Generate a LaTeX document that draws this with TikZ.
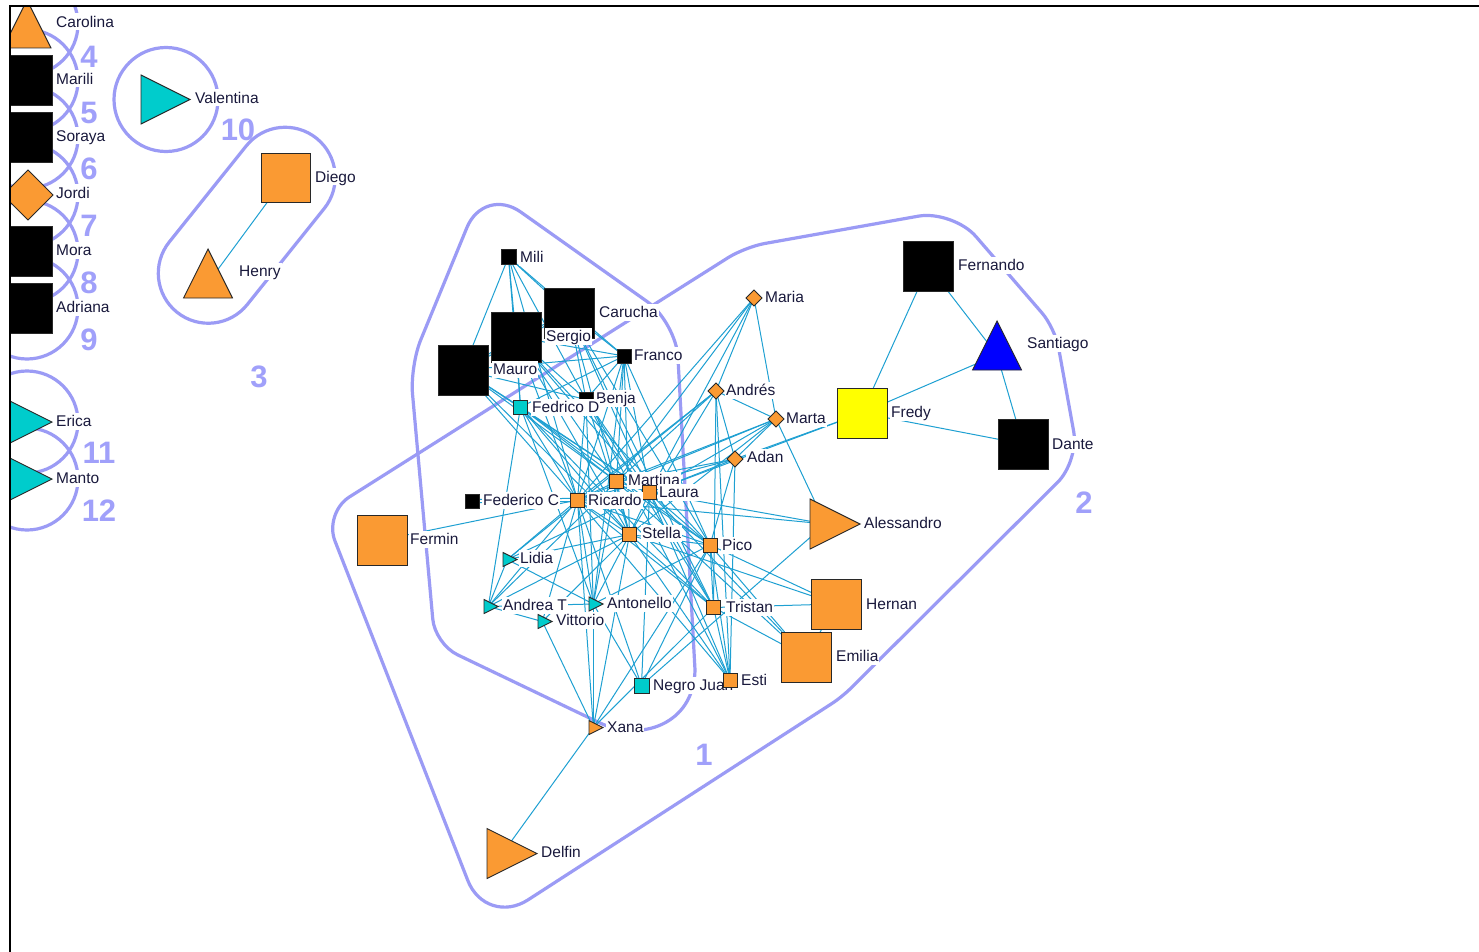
\documentclass[tikz,border=0pt]{standalone}
\usepackage{fontspec}
\setmainfont{Liberation Sans}
\usetikzlibrary{shapes.geometric,shapes.misc,calc}
\pgfdeclarelayer{paper}
\pgfdeclarelayer{hulls}
\pgfdeclarelayer{links}
\pgfsetlayers{paper,hulls,links,main}

\definecolor{nodeorange}{RGB}{250,154,51}
\definecolor{nodeteal}{RGB}{0,204,204}
\definecolor{nodeyellow}{RGB}{255,255,0}
\definecolor{nodeblue}{RGB}{0,0,255}
\definecolor{linkblue}{RGB}{30,160,210}
\definecolor{hullviolet}{RGB}{155,155,245}
\definecolor{numviolet}{RGB}{160,160,250}
\definecolor{labelink}{RGB}{25,25,60}
\definecolor{rimgray}{RGB}{40,40,40}

\begin{document}
\begin{tikzpicture}[x=1pt,y=-1pt,
  base/.style={draw=rimgray, line width=0.9pt, inner sep=0pt, outer sep=0pt},
  sqn/.style={base, rectangle, minimum size=#1},
  dmn/.style={base, diamond, minimum size=#1},
  rtri/.style={base, isosceles triangle, isosceles triangle stretches=true,
    minimum width=#1, minimum height=#1, anchor=apex},
  utri/.style={rtri=#1, shape border rotate=90},
  lbl/.style={anchor=west, fill=white, inner sep=1pt, text height=13pt, text depth=2pt,
    text=labelink, font=\fontsize{15.5}{18}\selectfont},
  num/.style={text=numviolet, font=\fontsize{31}{31}\selectfont\bfseries, inner sep=0pt},
  hull/.style={draw=hullviolet, line width=3.2pt},
  link/.style={draw=linkblue, line width=1pt},
]
\useasboundingbox (0,0) rectangle (1479,952);
\begin{pgfonlayer}{paper}
  \fill[white] (0,0) rectangle (1479,952);
\end{pgfonlayer}

% ---------- actors and their names ----------
\begin{scope}
\clip (10,7) rectangle (1479,952);
% isolates on the left margin
\node[utri=48, fill=nodeorange] (carolina) at (27,0) {};
\node[lbl] (lcarolina) at (55,22) {Carolina};
\node[sqn=50, fill=black] (marili) at (27,80.5) {};
\node[lbl] (lmarili) at (55,79) {Marili};
\node[sqn=50, fill=black] (soraya) at (27,137.5) {};
\node[lbl] (lsoraya) at (55,136) {Soraya};
\node[dmn=50, fill=nodeorange] (jordi) at (28,195) {};
\node[lbl] (ljordi) at (55,193) {Jordi};
\node[sqn=50, fill=black] (mora) at (27,251.5) {};
\node[lbl] (lmora) at (55,250) {Mora};
\node[sqn=50, fill=black] (adriana) at (27,308) {};
\node[lbl] (ladriana) at (55,307) {Adriana};
\node[rtri=49, fill=nodeteal] (erica) at (52,422) {};
\node[lbl] (lerica) at (55,421) {Erica};
\node[rtri=49, fill=nodeteal] (manto) at (52,479) {};
\node[lbl] (lmanto) at (55,478) {Manto};
\node[rtri=49, fill=nodeteal] (valentina) at (190,99.5) {};
\node[lbl] (lvalentina) at (194,98) {Valentina};
\node[sqn=49, fill=nodeorange] (diego) at (285.5,177.5) {};
\node[lbl] (ldiego) at (314,177) {Diego};
\node[utri=49, fill=nodeorange] (henry) at (208,249) {};
\node[lbl] (lhenry) at (238,271) {Henry};

% main component
\node[sqn=15, fill=black] (mili) at (508.5,257) {};
\node[lbl] (lmili) at (519,257) {Mili};
\node[sqn=50, fill=black] (carucha) at (569.5,313) {};
\node[lbl] (lcarucha) at (598,312) {Carucha};
\node[sqn=50, fill=black] (sergio) at (516,337) {};
\node[lbl] (lsergio) at (545,336) {Sergio};
\node[sqn=50, fill=black] (mauro) at (463,370) {};
\node[lbl] (lmauro) at (492,369) {Mauro};
\node[sqn=14, fill=black] (franco) at (624,356) {};
\node[lbl] (lfranco) at (633,355) {Franco};
\node[sqn=14, fill=black] (benja) at (586,399.5) {};
\node[lbl] (lbenja) at (595,398) {Benja};
\node[sqn=14, fill=nodeteal] (fedd) at (520.5,407) {};
\node[lbl] (lfedd) at (531,407) {Fedrico D};
\node[dmn=16, fill=nodeorange] (maria) at (754,298) {};
\node[lbl] (lmaria) at (764,297) {Maria};
\node[dmn=16, fill=nodeorange] (andres) at (716,391) {};
\node[lbl] (landres) at (725,390) {Andrés};
\node[dmn=16, fill=nodeorange] (marta) at (776,419) {};
\node[lbl] (lmarta) at (785,418) {Marta};
\node[dmn=16, fill=nodeorange] (adan) at (735,459) {};
\node[lbl] (ladan) at (746,457) {Adan};
\node[sqn=14, fill=nodeorange] (martina) at (616.5,481.5) {};
\node[lbl] (lmartina) at (627,480) {Martina};
\node[sqn=14, fill=nodeorange] (laura) at (649.5,492.5) {};
\node[lbl] (llaura) at (658,492) {Laura};
\node[sqn=14, fill=black] (fedc) at (472.5,501) {};
\node[lbl] (lfedc) at (482,500) {Federico C};
\node[sqn=14, fill=nodeorange] (ricardo) at (577.5,500) {};
\node[lbl] (lricardo) at (587,500) {Ricardo};
\node[sqn=14, fill=nodeorange] (stella) at (629.5,534.5) {};
\node[lbl] (lstella) at (641,533) {Stella};
\node[sqn=14, fill=nodeorange] (pico) at (710,545) {};
\node[lbl] (lpico) at (721,545) {Pico};
\node[rtri=14, fill=nodeteal] (lidia) at (517,559.5) {};
\node[lbl] (llidia) at (519,558) {Lidia};
\node[rtri=14, fill=nodeteal] (andrea) at (498,606.5) {};
\node[lbl] (landrea) at (502,605) {Andrea T};
\node[rtri=14, fill=nodeteal] (antonello) at (603,604) {};
\node[lbl] (lantonello) at (606,603) {Antonello};
\node[rtri=14, fill=nodeteal] (vittorio) at (552,621.5) {};
\node[lbl] (lvittorio) at (555,620) {Vittorio};
\node[sqn=14, fill=nodeorange] (tristan) at (713.5,607.5) {};
\node[lbl] (ltristan) at (725,607) {Tristan};
\node[sqn=15, fill=nodeteal] (negro) at (641.5,685.5) {};
\node[lbl] (lnegro) at (652,685) {Negro Juan};
\node[sqn=14, fill=nodeorange] (esti) at (730,680) {};
\node[lbl] (lesti) at (740,680) {Esti};
\node[rtri=14, fill=nodeorange] (xana) at (603,727.5) {};
\node[lbl] (lxana) at (606,727) {Xana};
\node[rtri=50, fill=nodeorange] (delfin) at (537,853.5) {};
\node[lbl] (ldelfin) at (540,852) {Delfin};
\node[sqn=50, fill=nodeorange] (fermin) at (382,540) {};
\node[lbl] (lfermin) at (409,539) {Fermin};
\node[rtri=50, fill=nodeorange] (alessandro) at (860,524) {};
\node[lbl] (lalessandro) at (863,523) {Alessandro};
\node[sqn=50, fill=nodeorange] (hernan) at (836,604) {};
\node[lbl] (lhernan) at (865,604) {Hernan};
\node[sqn=50, fill=nodeorange] (emilia) at (806,657) {};
\node[lbl] (lemilia) at (835,656) {Emilia};
\node[sqn=50, fill=nodeyellow] (fredy) at (862,413) {};
\node[lbl] (lfredy) at (890,412) {Fredy};
\node[sqn=50, fill=black] (fernando) at (928.5,266) {};
\node[lbl] (lfernando) at (957,265) {Fernando};
\node[utri=49, fill=nodeblue] (santiago) at (997,321) {};
\node[lbl] (lsantiago) at (1026,343) {Santiago};
\node[sqn=50, fill=black] (dante) at (1023,444) {};
\node[lbl] (ldante) at (1051,444) {Dante};

% group numbers
\node[num] (n1) at (704,755) {1};
\node[num] (n2) at (1084,503) {2};
\node[num] (n3) at (259,377) {3};
\node[num] (n4) at (89,57) {4};
\node[num] (n5) at (89,113) {5};
\node[num] (n6) at (89,169) {6};
\node[num] (n7) at (89,226) {7};
\node[num] (n8) at (89,283) {8};
\node[num] (n9) at (89,340) {9};
\node[num] (n10) at (238,130) {10};
\node[num] (n11) at (99,453) {11};
\node[num] (n12) at (99,511) {12};
\end{scope}

% ---------- ties ----------
\begin{pgfonlayer}{links}
\begin{scope}
\clip (10,7) rectangle (1479,952);
\foreach \a/\b in {
  mili/mauro, mili/sergio, mili/carucha, mili/fedd, mili/benja, mili/franco, mili/ricardo,
  carucha/franco, carucha/benja, carucha/sergio, carucha/mauro,
  sergio/franco, sergio/benja, sergio/fedd, sergio/mauro,
  mauro/fedd, mauro/benja, mauro/franco, franco/benja, franco/fedd,
  mauro/ricardo, mauro/stella, mauro/laura, mauro/martina,
  sergio/ricardo, sergio/stella, sergio/martina, sergio/laura, sergio/pico,
  carucha/laura, carucha/stella, carucha/pico, carucha/tristan,
  franco/ricardo, franco/martina, franco/laura, franco/stella, franco/pico, franco/antonello,
  benja/ricardo, benja/stella, benja/laura, benja/antonello, benja/tristan, benja/esti,
  fedd/ricardo, fedd/stella, fedd/martina, fedd/laura, fedd/pico, fedd/tristan,
  fedd/antonello, fedd/andrea,
  ricardo/martina, ricardo/laura, ricardo/stella, ricardo/pico, ricardo/lidia,
  ricardo/andrea, ricardo/antonello, ricardo/vittorio, ricardo/tristan, ricardo/negro,
  ricardo/xana, ricardo/esti,
  martina/laura, martina/stella, martina/pico, martina/antonello, martina/andrea, martina/emilia,
  laura/stella, laura/pico, laura/tristan, laura/esti, laura/lidia, laura/negro, laura/emilia,
  stella/pico, stella/tristan, stella/antonello, stella/andrea, stella/lidia, stella/vittorio,
  stella/esti, stella/xana, stella/hernan,
  pico/tristan, pico/esti, pico/negro, pico/xana, pico/hernan, pico/emilia, pico/antonello,
  tristan/esti, tristan/hernan, tristan/emilia, tristan/xana,
  lidia/andrea, lidia/antonello, andrea/antonello, andrea/vittorio,
  antonello/negro, antonello/xana, vittorio/xana, hernan/emilia,
  fermin/ricardo,
  maria/andres, maria/marta, maria/martina, maria/laura, maria/ricardo,
  andres/marta, andres/adan, andres/tristan, andres/martina, andres/ricardo,
  andres/stella, andres/esti, andres/lidia,
  marta/adan, marta/martina, marta/laura, marta/alessandro, marta/ricardo, marta/stella,
  adan/martina, adan/laura, adan/ricardo, adan/pico, adan/esti,
  fredy/adan, fredy/laura, fredy/fernando, fredy/santiago, fredy/dante,
  fernando/santiago, santiago/dante,
  alessandro/laura, alessandro/ricardo, alessandro/negro,
  xana/delfin, henry/diego}
  \draw[link] (\a) -- (\b);
\draw[link] ([yshift=-1.6pt]fedc.east) -- ([yshift=-1.6pt]ricardo.west);
\draw[link] ([yshift=1.6pt]fedc.east) -- ([yshift=1.6pt]ricardo.west);
\end{scope}
\end{pgfonlayer}

% ---------- group outlines ----------
\begin{pgfonlayer}{hulls}
\begin{scope}
\clip (10,7) rectangle (1479,952);
% group 1: corner points of the outline
\coordinate (g1a) at (410,366);
\coordinate (g1b) at (484,186);
\coordinate (g1c) at (676,322);
\coordinate (g1d) at (695,670);
\coordinate (g1f) at (600,723);
\coordinate (g1e) at (435,644);
\draw[hull] ($(g1e)!0.5!(g1a)$)
  -- ($(g1a)!28pt!(g1e)$) .. controls ($(g1a)!12.6pt!(g1e)$) and ($(g1a)!12.6pt!(g1b)$) .. ($(g1a)!28pt!(g1b)$)
  -- ($(g1b)!45pt!(g1a)$) .. controls ($(g1b)!20pt!(g1a)$) and ($(g1b)!20pt!(g1c)$) .. ($(g1b)!45pt!(g1c)$)
  -- ($(g1c)!35pt!(g1b)$) .. controls ($(g1c)!16pt!(g1b)$) and ($(g1c)!16pt!(g1d)$) .. ($(g1c)!35pt!(g1d)$)
  -- (g1d) .. controls (694,725) and (640,742) .. (g1f)
  -- ($(g1e)!25pt!(g1f)$) .. controls ($(g1e)!11pt!(g1f)$) and ($(g1e)!11pt!(g1a)$) .. ($(g1e)!25pt!(g1a)$)
  -- cycle;
% group 2
\coordinate (g2a) at (324,513);
\coordinate (g2b) at (745,247);
\coordinate (g2c) at (953,210);
\coordinate (g2d) at (1055,328);
\coordinate (g2e) at (1079,461);
\coordinate (g2f) at (842,697);
\coordinate (g2g) at (486,927);
\draw[hull] ($(g2g)!0.5!(g2a)$)
  -- ($(g2a)!30pt!(g2g)$) .. controls ($(g2a)!13.5pt!(g2g)$) and ($(g2a)!13.5pt!(g2b)$) .. ($(g2a)!30pt!(g2b)$)
  -- ($(g2b)!20pt!(g2a)$) .. controls ($(g2b)!9pt!(g2a)$) and ($(g2b)!9pt!(g2c)$) .. ($(g2b)!20pt!(g2c)$)
  -- ($(g2c)!35pt!(g2b)$) .. controls ($(g2c)!16pt!(g2b)$) and ($(g2c)!16pt!(g2d)$) .. ($(g2c)!35pt!(g2d)$)
  -- ($(g2d)!20pt!(g2c)$) .. controls ($(g2d)!9pt!(g2c)$) and ($(g2d)!9pt!(g2e)$) .. ($(g2d)!20pt!(g2e)$)
  -- ($(g2e)!30pt!(g2d)$) .. controls ($(g2e)!13.5pt!(g2d)$) and ($(g2e)!13.5pt!(g2f)$) .. ($(g2e)!30pt!(g2f)$)
  -- ($(g2f)!12pt!(g2e)$) .. controls ($(g2f)!5.4pt!(g2e)$) and ($(g2f)!5.4pt!(g2g)$) .. ($(g2f)!12pt!(g2g)$)
  -- ($(g2g)!50pt!(g2f)$) .. controls ($(g2g)!22.5pt!(g2f)$) and ($(g2g)!22.5pt!(g2a)$) .. ($(g2g)!50pt!(g2a)$)
  -- cycle;
% group 3: a stadium around Diego and Henry
\node[hull, rounded rectangle, minimum width=223pt, minimum height=100pt,
  inner sep=0pt, rotate=51.3] (grp3) at (246.75,225.25) {};
% single-member groups
\foreach \cy in {24,80.5,137.5,195,251.5,308,422,479}
  \draw[hull] (27,\cy) circle[radius=51];
\draw[hull] (166,99.5) circle[radius=52];
\end{scope}
\end{pgfonlayer}

% window frame
\draw[line width=2pt, black] (9.5,952) -- (9.5,6.5) -- (1479,6.5);
\end{tikzpicture}
\end{document}
